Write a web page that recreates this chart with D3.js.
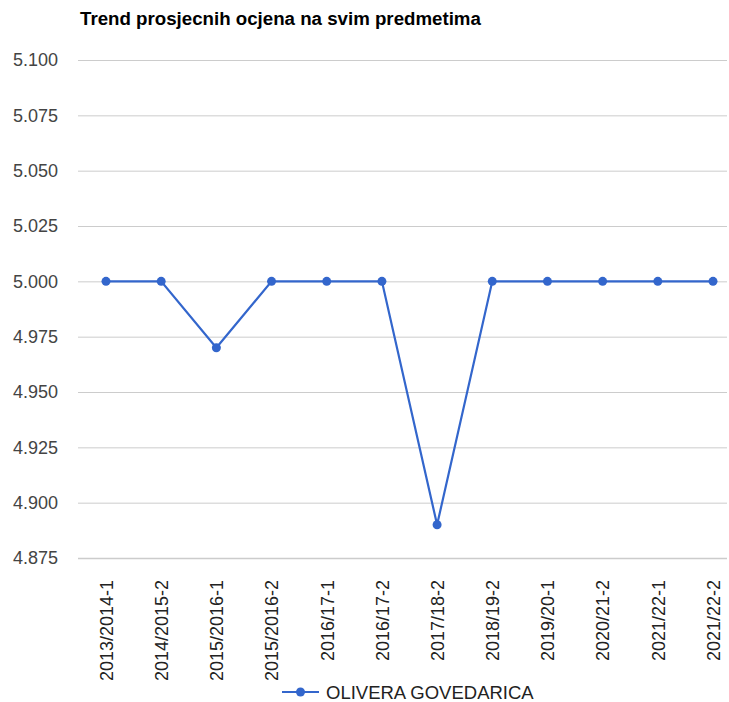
<!DOCTYPE html>
<html><head><meta charset="utf-8">
<script src="https://cdn.jsdelivr.net/npm/d3@7/dist/d3.min.js"></script>
<style>body{margin:0;background:#fff;}svg{display:block;font-family:"Liberation Sans",Arial,sans-serif;}</style>
</head><body>
<svg id="c" width="729" height="702"></svg>
<script>
const categories = ["2013/2014-1","2014/2015-2","2015/2016-1","2015/2016-2","2016/17-1","2016/17-2","2017/18-2","2018/19-2","2019/20-1","2020/21-2","2021/22-1","2021/22-2"];
const values = [5.0,5.0,4.97,5.0,5.0,5.0,4.89,5.0,5.0,5.0,5.0,5.0];
const yTicks = [4.875,4.9,4.925,4.95,4.975,5.0,5.025,5.05,5.075,5.1];
const seriesName = "OLIVERA GOVEDARICA";
const title = "Trend prosjecnih ocjena na svim predmetima";

(function(){
const svg = d3.select("#c");
const mLeft = 78, mRight = 727, mTop = 60, mBottom = 558;
const color = "#3366cc";

const x = d3.scalePoint().domain(categories).range([106, 713]);
const y = d3.scaleLinear().domain([4.875, 5.1]).range([mBottom, mTop]);

svg.append("text").attr("x", 80).attr("y", 25).attr("font-size", 18.7).attr("font-weight", "bold").attr("fill", "#000").text(title);

const yAxis = svg.append("g").attr("transform", `translate(${mLeft},0)`)
  .call(d3.axisLeft(y).tickValues(yTicks).tickFormat(d3.format(".3f")).tickSize(-(mRight-mLeft)).tickPadding(20));
yAxis.select(".domain").remove();
yAxis.selectAll(".tick line").attr("stroke", "#cccccc").attr("stroke-width", d => d === 4.875 ? 1.5 : 1);
yAxis.selectAll(".tick text").attr("font-size", 18).attr("fill", "#444").attr("font-family", "Liberation Sans, Arial, sans-serif");

const xAxis = svg.append("g").attr("transform", `translate(0,${mBottom})`)
  .call(d3.axisBottom(x).tickSize(0).tickPadding(0));
xAxis.select(".domain").remove();
xAxis.selectAll(".tick text")
  .attr("font-size", 18).attr("fill", "#222").attr("font-family", "Liberation Sans, Arial, sans-serif")
  .attr("transform", "rotate(-90)")
  .attr("text-anchor", "end").attr("x", -22).attr("y", 0).attr("dy", "0.35em");

const line = d3.line().x((d,i) => x(categories[i])).y(d => y(d));
svg.append("path").datum(values).attr("d", line).attr("fill", "none").attr("stroke", color).attr("stroke-width", 2.2);
svg.selectAll("circle.pt").data(values).enter().append("circle").attr("class","pt")
  .attr("cx", (d,i) => x(categories[i])).attr("cy", d => y(d)).attr("r", 4.5).attr("fill", color);

const lg = svg.append("g");
lg.append("line").attr("x1", 282).attr("x2", 319).attr("y1", 692).attr("y2", 692).attr("stroke", color).attr("stroke-width", 2.2);
lg.append("circle").attr("cx", 300.5).attr("cy", 692).attr("r", 4.5).attr("fill", color);
lg.append("text").attr("x", 326).attr("y", 699).attr("font-size", 18.5).attr("fill", "#222").text(seriesName);
})();
</script>
</body></html>
